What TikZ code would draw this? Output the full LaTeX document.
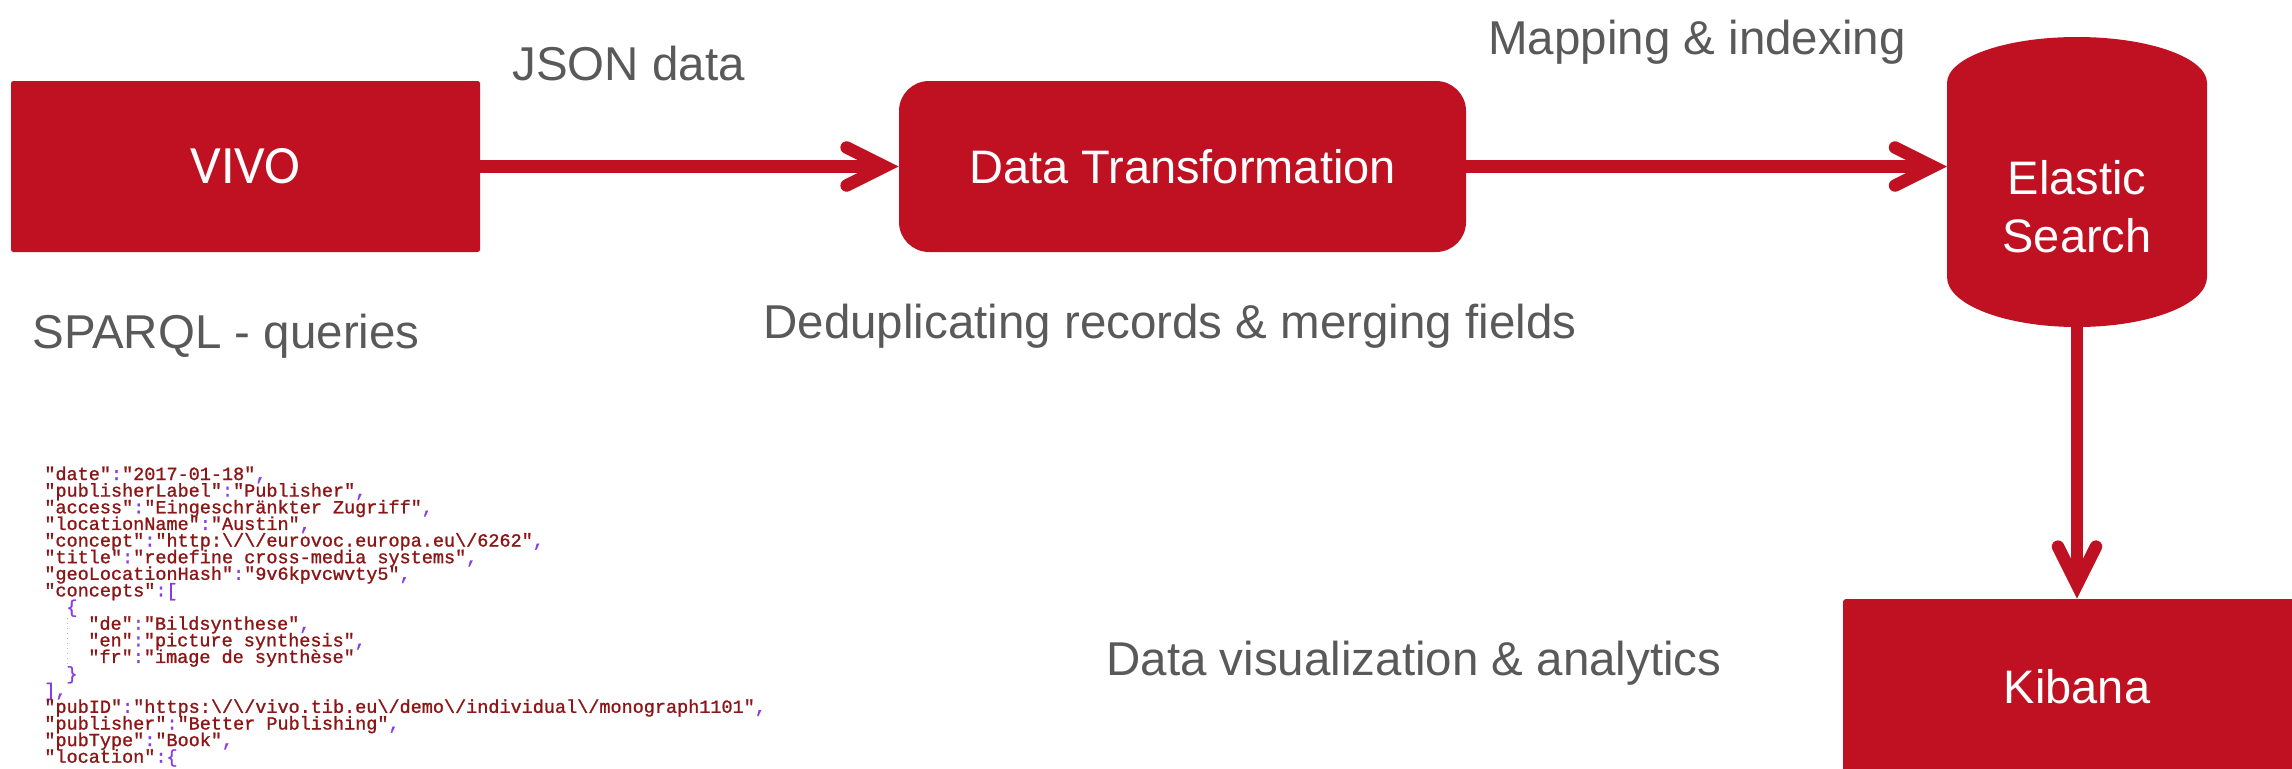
\documentclass[tikz,border=0pt]{standalone}
\usepackage{fontspec}
\setmainfont{Liberation Sans}
\setmonofont{Liberation Mono}[FakeBold=1.2]
\newfontfamily\calib{Carlito}
\usetikzlibrary{arrows.meta}
\definecolor{boxred}{RGB}{192,17,34}
\definecolor{labgray}{RGB}{89,89,89}
\definecolor{jred}{RGB}{140,22,22}
\definecolor{jpurp}{RGB}{136,60,230}
\newcommand\KS[1]{\textcolor{jred}{#1}}
\newcommand\PU[1]{\textcolor{jpurp}{#1}}
\newcommand\kvp[3]{\KS{"#1"}\PU{:}\KS{"#2"}\PU{#3}}
\newcommand\bsl{\textbackslash}
\begin{document}
\begin{tikzpicture}[x=0.5pt,y=-0.5pt,
  box/.style={fill=boxred, draw=none, text=white, inner sep=0pt, font=\fontsize{23.5pt}{29pt}\selectfont},
  lab/.style={anchor=base west, inner sep=0pt, text=labgray, font=\fontsize{23.75pt}{28pt}\selectfont},
  codeline/.style={anchor=base west, inner sep=0pt, font=\ttfamily\fontsize{9.25pt}{8.3pt}\selectfont},
  flow/.style={draw=boxred, line width=6.25pt, -{Straight Barb[length=19pt,width=19pt,line cap=round,line join=miter]}}]
\useasboundingbox (0,0) rectangle (2292,768);

% boxes
\node[box, minimum width=234.5pt, minimum height=85.5pt, rounded corners=1.2pt, font=\calib\fontsize{27pt}{32pt}\selectfont] (vivo) at (245.5,166.5) {VIVO};
\node[box, minimum width=283.5pt, minimum height=85.5pt, rounded corners=15pt] (dt) at (1182.5,166.5) {Data Transformation};
\fill[boxred] (1947,83) .. controls (1947,57.6) and (2005.2,37) .. (2077,37)
  .. controls (2148.8,37) and (2207,57.6) .. (2207,83) -- (2207,277)
  .. controls (2207,304.6) and (2148.8,327) .. (2077,327)
  .. controls (2005.2,327) and (1947,304.6) .. (1947,277) -- cycle;
\node[box, fill=none, align=center] (es) at (2077,206.5) {Elastic\\Search};
\coordinate (esW) at (1947,166);
\coordinate (esS) at (2077,327);
\node[box, minimum width=234pt, minimum height=87.5pt, rounded corners=1.5pt] (kib) at (2077,686.5) {Kibana};

% connectors
\draw[flow] (vivo.east) -- (dt.west);
\draw[flow] (dt.east) -- (dt.east -| esW);
\draw[flow] (esS) -- (kib.north);

% labels
\node[lab] (l1) at (512,80) {JSON data};
\node[lab] (l2) at (1488,54) {Mapping \& indexing};
\node[lab] (l3) at (32,348) {SPARQL - queries};
\node[lab] (l4) at (763,338) {Deduplicating records \& merging fields};
\node[lab] (l5) at (1106,675) {Data visualization \& analytics};

% JSON code
\node[codeline] (c0) at (44,480.0) {\kvp{date}{2017-01-18}{,}};
\node[codeline] (c1) at (44,496.6) {\kvp{publisherLabel}{Publisher}{,}};
\node[codeline] (c2) at (44,513.3) {\kvp{access}{Eingeschränkter Zugriff}{,}};
\node[codeline] (c3) at (44,529.9) {\kvp{locationName}{Austin}{,}};
\node[codeline] (c4) at (44,546.5) {\kvp{concept}{http:\bsl/\bsl/eurovoc.europa.eu\bsl/6262}{,}};
\node[codeline] (c5) at (44,563.2) {\kvp{title}{redefine cross-media systems}{,}};
\node[codeline] (c6) at (44,579.8) {\kvp{geoLocationHash}{9v6kpvcwvty5}{,}};
\node[codeline] (c7) at (44,596.4) {\KS{"concepts"}\PU{:[}};
\node[codeline] (c8) at (66,613.0) {\PU{\{}};
\node[codeline] (c9) at (88,629.7) {\kvp{de}{Bildsynthese}{,}};
\node[codeline] (c10) at (88,646.3) {\kvp{en}{picture synthesis}{,}};
\node[codeline] (c11) at (88,662.9) {\kvp{fr}{image de synthèse}{}};
\node[codeline] (c12) at (66,679.6) {\PU{\}}};
\node[codeline] (c13) at (44,696.2) {\PU{],}};
\node[codeline] (c14) at (44,712.8) {\kvp{pubID}{https:\bsl/\bsl/vivo.tib.eu\bsl/demo\bsl/individual\bsl/monograph1101}{,}};
\node[codeline] (c15) at (44,729.5) {\kvp{publisher}{Better Publishing}{,}};
\node[codeline] (c16) at (44,746.1) {\kvp{pubType}{Book}{,}};
\node[codeline] (c17) at (44,762.7) {\KS{"location"}\PU{:\{}};
\draw[black!30, dotted, line width=0.5pt] (67,618) -- (67,668);
\end{tikzpicture}
\end{document}
